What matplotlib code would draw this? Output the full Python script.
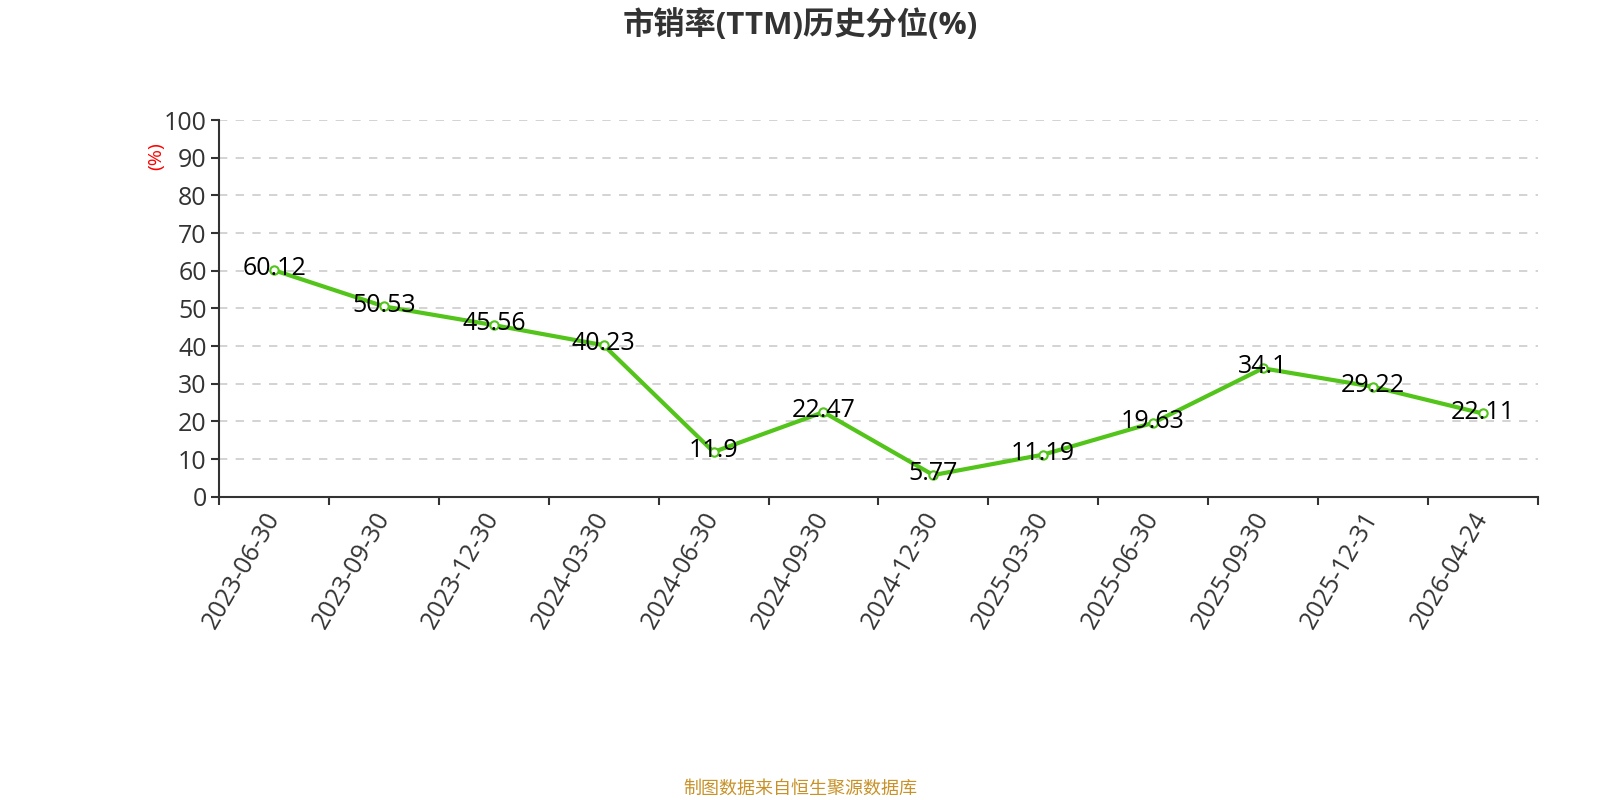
import matplotlib.pyplot as plt
import numpy as np

plt.rcParams['font.family'] = ['Open Sans', 'Noto Sans CJK SC', 'DejaVu Sans']

dates = ["2023-06-30", "2023-09-30", "2023-12-30", "2024-03-30", "2024-06-30", "2024-09-30",
         "2024-12-30", "2025-03-30", "2025-06-30", "2025-09-30", "2025-12-31", "2026-04-24"]
values = [60.12, 50.53, 45.56, 40.23, 11.9, 22.47, 5.77, 11.19, 19.63, 34.1, 29.22, 22.11]
labels = ["60.12", "50.53", "45.56", "40.23", "11.9", "22.47", "5.77", "11.19", "19.63", "34.1", "29.22", "22.11"]

fig = plt.figure(figsize=(16, 8), dpi=100)
ax = fig.add_axes([0.137, 0.379, 0.824, 0.471])

x = np.arange(len(dates)) + 0.5
ax.plot(x, values, color='#52c41a', linewidth=3, zorder=3,
        marker='o', markersize=6, markerfacecolor='white', markeredgecolor='#52c41a', markeredgewidth=1.5)
for xi, v, t in zip(x, values, labels):
    ax.annotate(t, (xi, v), xytext=(0, 1), textcoords='offset points',
                ha='center', va='center', fontsize=18, color='black', zorder=4)

ax.set_xlim(0, len(dates))
ax.set_ylim(0, 100)
ax.set_yticks(range(0, 101, 10))
ax.set_xticks(np.arange(len(dates) + 1))
ax.set_xticklabels([])
ax.set_xticks(x, minor=True)
ax.set_xticklabels(dates, minor=True, rotation=60, ha='right', va='center', rotation_mode='anchor',
                   fontsize=18, color='#333333')
ax.tick_params(axis='x', which='minor', length=0, pad=12)
ax.tick_params(axis='x', which='major', length=6, width=1.5, color='#333333')
ax.tick_params(axis='y', length=6, width=1.5, color='#333333', labelsize=18, labelcolor='#333333', pad=3)

ax.grid(axis='y', linestyle=(0, (5, 5)), color='#cccccc', linewidth=1.2)
ax.set_axisbelow(True)
for s in ['top', 'right']:
    ax.spines[s].set_visible(False)
for s in ['left', 'bottom']:
    ax.spines[s].set_color('#333333')
    ax.spines[s].set_linewidth(1.5)

fig.text(0.0975, 0.805, "(%)", rotation=90, color='red', fontsize=14, ha='center', va='center')
fig.text(0.5, 0.969, "市销率(TTM)历史分位(%)", ha='center', va='center', fontsize=22.5,
         fontweight='bold', color='#333333')
fig.text(0.5, 0.014, "制图数据来自恒生聚源数据库", ha='center', va='center', fontsize=13, color='#c8922a')

fig.savefig("out.png", dpi=100)
